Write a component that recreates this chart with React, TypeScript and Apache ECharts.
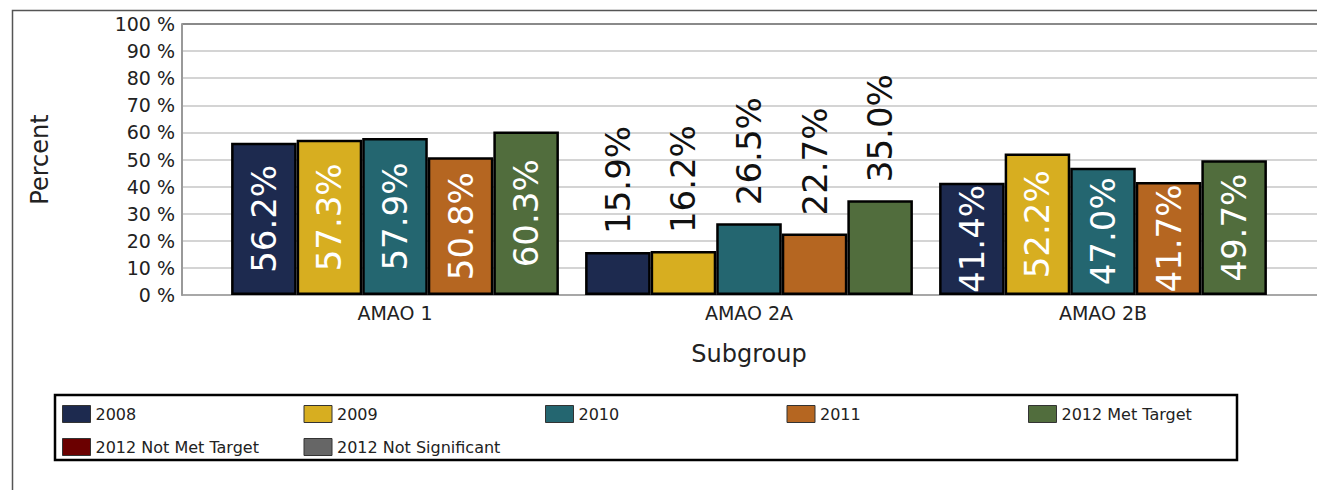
import React, { useEffect, useRef } from "react";
import * as echarts from "echarts";

const categories = ["AMAO 1", "AMAO 2A", "AMAO 2B"];
const seriesNames = ["2008", "2009", "2010", "2011", "2012 Met Target"];
const emptySeriesNames = ["2012 Not Met Target", "2012 Not Significant"];
const values2008 = [56.2, 15.9, 41.4];
const values2009 = [57.3, 16.2, 52.2];
const values2010 = [57.9, 26.5, 47.0];
const values2011 = [50.8, 22.7, 41.7];
const values2012 = [60.3, 35.0, 49.7];
const seriesValues = [values2008, values2009, values2010, values2011, values2012];
const colors = ["#1d2a4f", "#d7ae20", "#246670", "#b56621", "#516d3d"];
const emptyColors = ["#6b0000", "#666666"];
const yTicks = [0, 10, 20, 30, 40, 50, 60, 70, 80, 90, 100];

const FONT = "'DejaVu Sans', Verdana, sans-serif";

export default function App() {
  const ref = useRef<HTMLDivElement>(null);
  useEffect(() => {
    document.body.style.margin = "0";
    if (!ref.current) return;
    const chart = echarts.init(ref.current, undefined, { renderer: "svg" });

    const barSeries = seriesNames.map((name, i) => ({
      name,
      type: "bar",
      xAxisIndex: 1,
      yAxisIndex: 1,
      barGap: "0%",
      barCategoryGap: "7.4%",
      itemStyle: { color: colors[i], borderColor: "#000", borderWidth: 2.5 },
      data: seriesValues[i].map((v) => {
        const outside = v < 40;
        return {
          value: v,
          label: outside
            ? {
                show: true,
                position: "top",
                distance: 18,
                rotate: 90,
                align: "left",
                verticalAlign: "middle",
                color: "#111",
              }
            : {
                show: true,
                position: "inside",
                rotate: 90,
                align: "center",
                verticalAlign: "middle",
                color: "#fff",
              },
        };
      }),
      label: {
        show: true,
        fontFamily: FONT,
        fontSize: 34,
        formatter: (p: any) => Number(p.value).toFixed(1) + "%",
      },
    }));

    const emptySeries = emptySeriesNames.map((name, i) => ({
      name,
      type: "bar",
      xAxisIndex: 0,
      yAxisIndex: 0,
      itemStyle: { color: emptyColors[i], borderColor: "#000", borderWidth: 1 },
      data: [],
    }));

    chart.setOption({
      animation: false,
      color: [...colors, ...emptyColors],
      textStyle: { fontFamily: FONT },
      grid: [
        { left: 182, top: 24, width: 1200, height: 271 },
        { left: 218, top: 24, width: 1062, height: 271 },
      ],
      xAxis: [
        {
          type: "value",
          gridIndex: 0,
          min: 0,
          max: 1,
          axisLine: { show: true, lineStyle: { color: "#999", width: 1.5 } },
          axisTick: { show: false },
          axisLabel: { show: false },
          splitLine: { show: false },
        },
        {
          type: "category",
          gridIndex: 1,
          data: categories,
          axisLine: { show: false },
          axisTick: { show: false },
          axisLabel: { fontSize: 19, color: "#222", margin: 8, fontFamily: FONT },
          name: "Subgroup",
          nameLocation: "middle",
          nameGap: 47,
          nameTextStyle: { fontSize: 24, color: "#222", fontFamily: FONT },
        },
      ],
      yAxis: [
        {
          type: "value",
          gridIndex: 0,
          min: 0,
          max: 100,
          interval: 10,
          axisLine: { show: true, lineStyle: { color: "#999", width: 2 } },
          axisTick: { show: false },
          axisLabel: {
            fontSize: 19,
            color: "#222",
            margin: 7,
            fontFamily: FONT,
            formatter: (v: number) => (yTicks.includes(v) ? v + " %" : ""),
          },
          splitLine: {
            show: true,
            lineStyle: {
              color: ["#d4d4d4", "#d4d4d4", "#d4d4d4", "#d4d4d4", "#d4d4d4", "#d4d4d4", "#d4d4d4", "#d4d4d4", "#d4d4d4", "#d4d4d4", "#8a8a8a"],
              width: 2,
            },
          },
          name: "Percent",
          nameLocation: "middle",
          nameGap: 130,
          nameRotate: 90,
          nameTextStyle: { fontSize: 24, color: "#222", fontFamily: FONT },
        },
        {
          type: "value",
          gridIndex: 1,
          min: 0,
          max: 100,
          interval: 10,
          show: false,
        },
      ],
      legend: {
        left: 62,
        top: 402,
        width: 1215,
        orient: "horizontal",
        icon: "rect",
        itemWidth: 28,
        itemHeight: 17,
        itemGap: 9,
        padding: 0,
        data: [...seriesNames, ...emptySeriesNames],
        itemStyle: { borderColor: "#333", borderWidth: 1 },
        textStyle: {
          fontSize: 16,
          color: "#222",
          fontFamily: FONT,
          width: 199,
          height: 24,
          lineHeight: 24,
          overflow: "truncate",
        },
      },
      graphic: [
        {
          type: "rect",
          shape: { x: 12.5, y: 10.5, width: 1400, height: 600 },
          style: { fill: "none", stroke: "#555", lineWidth: 1.5 },
          silent: true,
          z: -10,
        },
        {
          type: "rect",
          shape: { x: 55, y: 395, width: 1182, height: 65 },
          style: { fill: "none", stroke: "#000", lineWidth: 2.5 },
          silent: true,
        },
      ],
      series: [...barSeries, ...emptySeries],
    });
    return () => chart.dispose();
  }, []);
  return <div ref={ref} style={{ width: 1317, height: 490 }} />;
}
